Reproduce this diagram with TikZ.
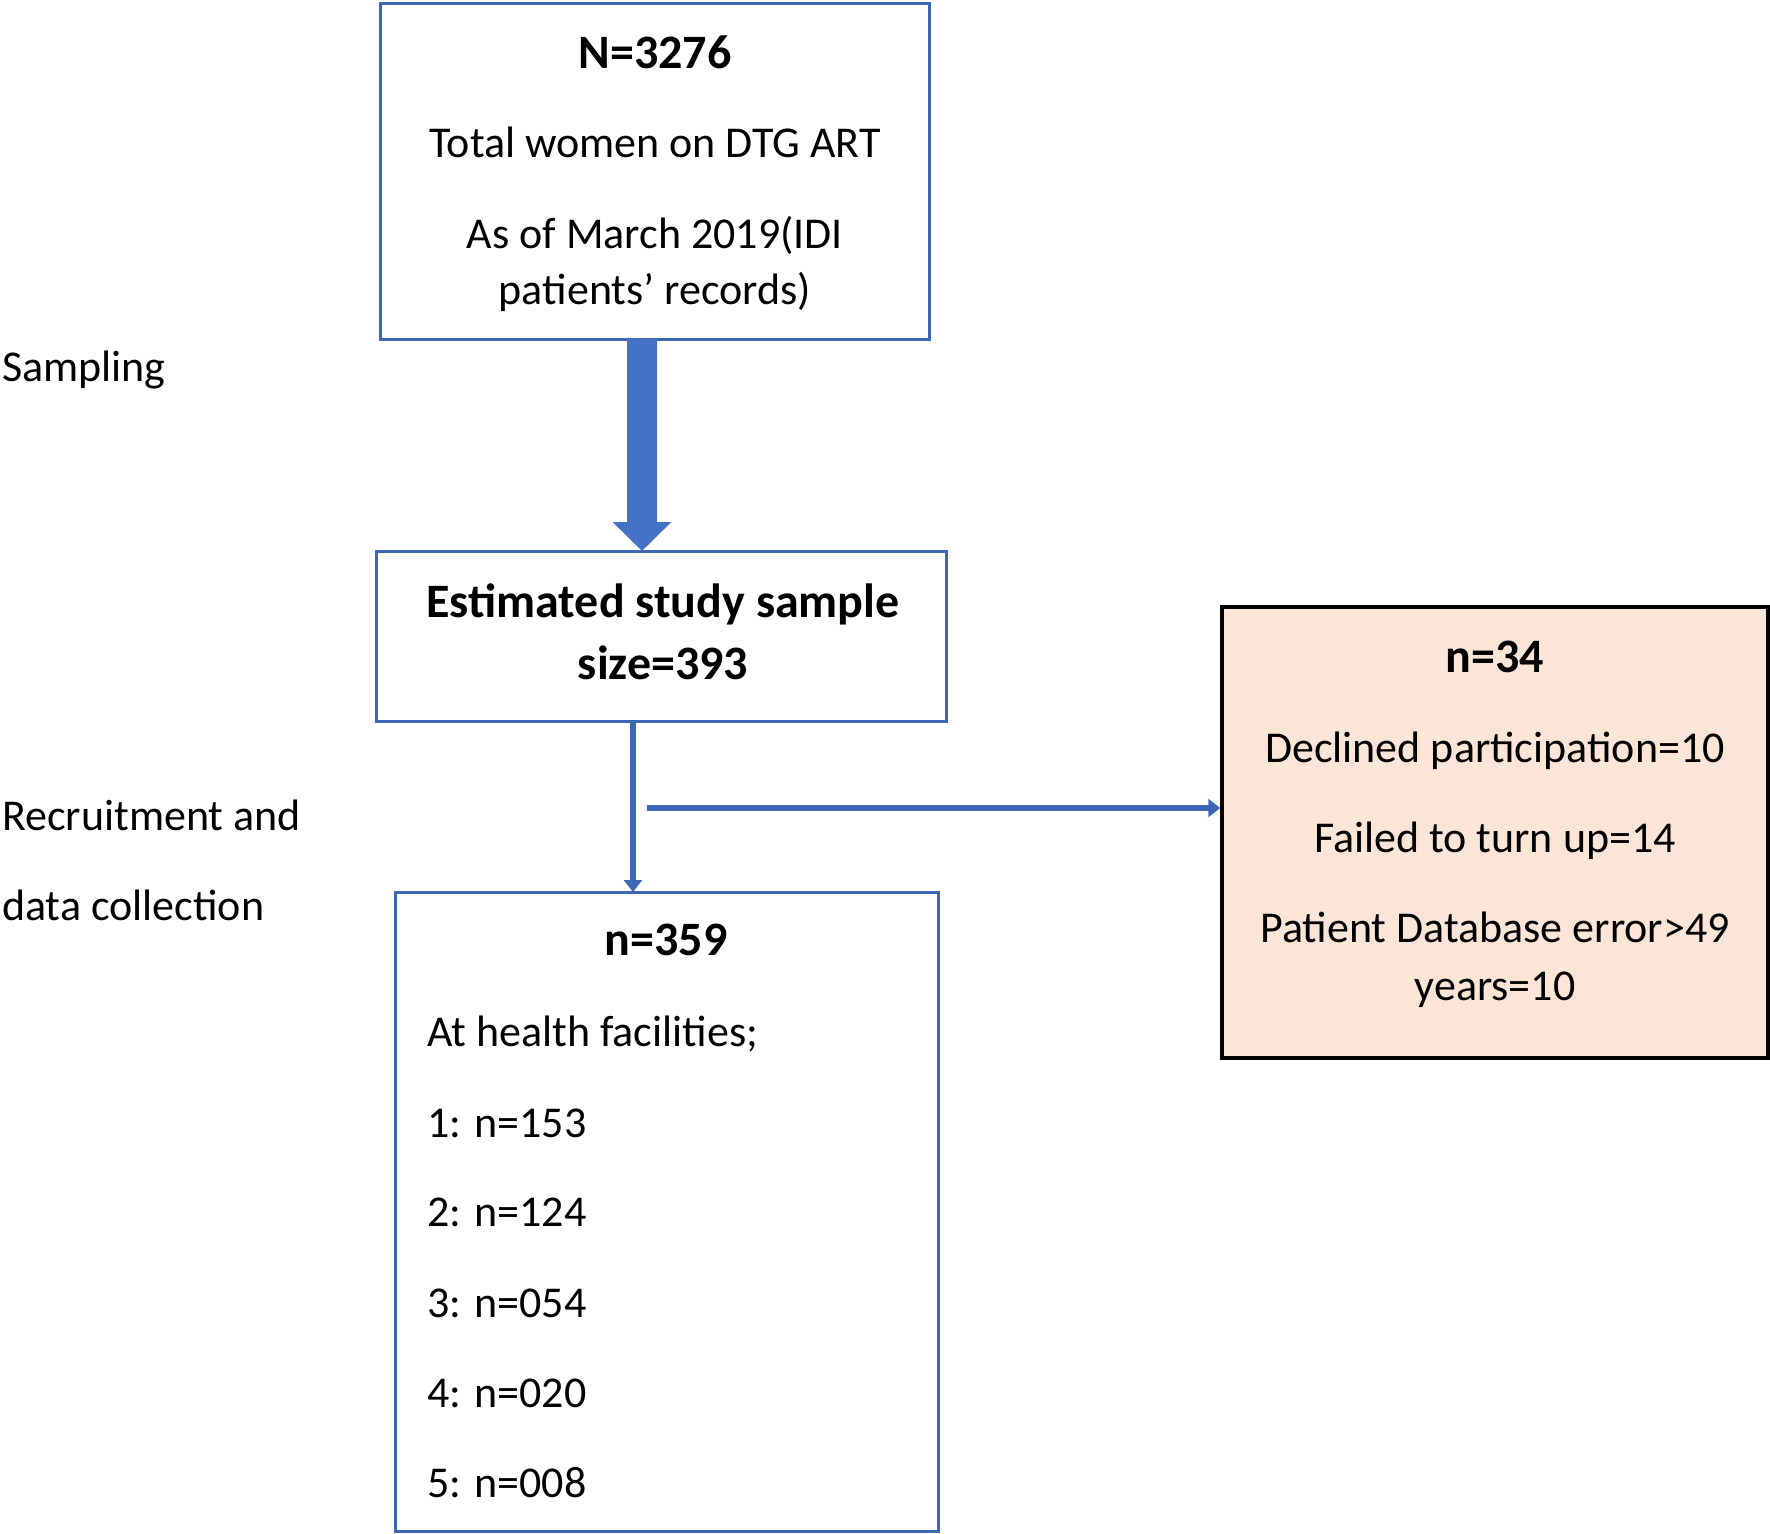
\documentclass[tikz,border=0pt]{standalone}
\usepackage{fontspec}
\setmainfont{Carlito}
\usetikzlibrary{arrows.meta}
\definecolor{bluefill}{HTML}{4472C4}
\definecolor{blueline}{HTML}{3E68B6}
\definecolor{peach}{HTML}{FBE5D6}
\tikzset{
  txt/.style={inner sep=0pt, anchor=base, font=\fontsize{44}{53}\selectfont},
  txtb/.style={txt, font=\fontsize{48}{58}\selectfont\bfseries},
  txtl/.style={txt, anchor=base west},
  bluebox/.style={draw=blueline, line width=3pt, inner sep=0pt},
  peachbox/.style={draw=black, fill=peach, line width=3.5pt, inner sep=0pt},
  conn/.style={draw=blueline, line width=6pt, -{Triangle[width=18pt,length=12pt]}},
}
\begin{document}
\begin{tikzpicture}[x=1pt,y=-1pt]
\useasboundingbox (0,0) rectangle (1770,1534);
% boxes
\node[bluebox, minimum width=549pt, minimum height=336pt] (b1) at (654.5,171) {};
\node[bluebox, minimum width=570pt, minimum height=170pt] (b2) at (661,636) {};
\node[bluebox, minimum width=543pt, minimum height=639pt] (b3) at (666.5,1211.5) {};
\node[peachbox, minimum width=546pt, minimum height=451pt] (b4) at (1495,832.5) {};
% box 1 text
\node[txtb] (t11) at (655,68) {N=3276};
\node[txt] (t12) at (655,157) {Total women on DTG ART};
\node[txt] (t13) at (655,248) {As of March 2019(IDI};
\node[txt] (t14) at (655,304) {patients’ records)};
% box 2 text
\node[txtb] (t21) at (663,617) {Estimated study sample};
\node[txtb] (t22) at (663,679) {size=393};
% box 3 text
\node[txtb] (t31) at (666,955) {n=359};
\node[txtl] (t32) at (427,1046) {At health facilities;};
\node[txtl] (t33) at (427,1137) {1: n=153};
\node[txtl] (t34) at (427,1226) {2: n=124};
\node[txtl] (t35) at (427,1317) {3: n=054};
\node[txtl] (t36) at (427,1407) {4: n=020};
\node[txtl] (t37) at (427,1497) {5: n=008};
% box 4 text
\node[txtb] (t41) at (1495,672) {n=34};
\node[txt] (t42) at (1495,762) {Declined participation=10};
\node[txt] (t43) at (1495,852) {Failed to turn up=14};
\node[txt] (t44) at (1495,942) {Patient Database error>49};
\node[txt] (t45) at (1495,1000) {years=10};
% side labels
\node[txtl] (l1) at (2,381) {Sampling};
\node[txtl] (l2) at (2,830) {Recruitment and};
\node[txtl] (l3) at (2,920) {data collection};
% connectors
\draw[draw=bluefill, line width=30pt, -{Triangle[width=57pt,length=29pt]}] (642,339) -- (642,551);
\draw[conn] (633,721) -- (633,892);
\coordinate (split) at (647,808);
\draw[conn] (split) -- (split -| b4.west);
\end{tikzpicture}
\end{document}
